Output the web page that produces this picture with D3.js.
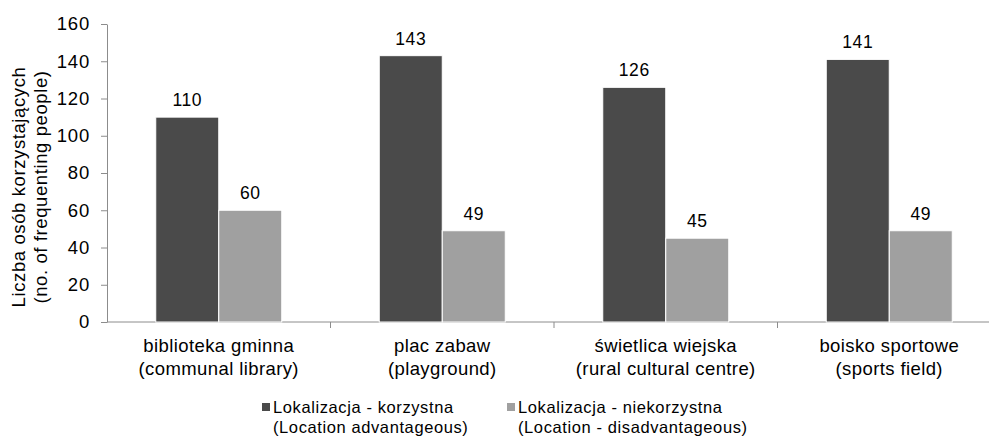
<!DOCTYPE html>
<html>
<head>
<meta charset="utf-8">
<script src="https://cdn.jsdelivr.net/npm/d3@7"></script>
<style>
  body { margin: 0; background: #fff; }
  svg { display: block; font-family: "Liberation Sans", Arial, sans-serif; }
</style>
</head>
<body>
<svg id="chart" width="989" height="438"></svg>
<script>
const categories = ["biblioteka gminna", "plac zabaw", "świetlica wiejska", "boisko sportowe"];
const categoriesEn = ["(communal library)", "(playground)", "(rural cultural centre)", "(sports field)"];
const seriesNames = ["Lokalizacja - korzystna", "Lokalizacja - niekorzystna"];
const seriesNamesEn = ["(Location advantageous)", "(Location - disadvantageous)"];
const advantageous = [110, 143, 126, 141];
const disadvantageous = [60, 49, 45, 49];
const yTicks = [0, 20, 40, 60, 80, 100, 120, 140, 160];

const colors = ["#4a4a4a", "#a0a0a0"];
const svg = d3.select("#chart");

const rows = categories.map((c, i) => ({
  cat: c,
  vals: [advantageous[i], disadvantageous[i]],
}));

// scales
const x = d3.scaleBand().domain(categories).range([107, 1001]).padding(0);
const y = d3.scaleLinear().domain([0, 160]).range([322, 24]);
const barW = 63;

// y axis
const yAxis = svg.append("g")
  .attr("transform", "translate(107,0)")
  .call(d3.axisLeft(y).tickValues(yTicks).tickSize(6).tickPadding(11).tickSizeOuter(0));
yAxis.select(".domain").attr("stroke", "#8c8c8c");
yAxis.selectAll(".tick line").attr("stroke", "#8c8c8c");
yAxis.selectAll(".tick text").attr("font-size", 18.5).attr("fill", "#000")
  .attr("letter-spacing", 0.8)
  .attr("font-family", "'Liberation Sans', Arial, sans-serif");

// x axis
const xAxis = svg.append("g").attr("transform", "translate(0,322)");
xAxis.append("line").attr("x1", 107).attr("x2", 1001).attr("stroke", "#8c8c8c");
xAxis.selectAll("line.tk")
  .data(categories.slice(1))
  .join("line")
  .attr("class", "tk")
  .attr("x1", (d) => x(d)).attr("x2", (d) => x(d))
  .attr("y1", 0).attr("y2", 6)
  .attr("stroke", "#8c8c8c");

const xl = svg.append("g")
  .selectAll("text")
  .data(categories)
  .join("text")
  .attr("text-anchor", "middle")
  .attr("font-size", 18.5)
  .attr("letter-spacing", 0.4)
  .attr("fill", "#000");
xl.append("tspan").attr("x", (d) => x(d) + x.bandwidth() / 2).attr("y", 352).text((d) => d);
xl.append("tspan").attr("x", (d) => x(d) + x.bandwidth() / 2).attr("y", 375)
  .text((d, i) => categoriesEn[i]);

// bars
const groups = svg.append("g")
  .selectAll("g")
  .data(rows)
  .join("g")
  .attr("transform", (d) => "translate(" + (x(d.cat) + x.bandwidth() / 2 - barW) + ",0)");

groups.selectAll("rect")
  .data((d) => d.vals)
  .join("rect")
  .attr("x", (d, i) => i * barW)
  .attr("y", (d) => y(d))
  .attr("width", barW)
  .attr("height", (d) => y(0) - y(d))
  .attr("fill", (d, i) => colors[i])
  .attr("stroke", "#ffffff")
  .attr("stroke-width", 1);

groups.selectAll("text")
  .data((d) => d.vals)
  .join("text")
  .attr("x", (d, i) => i * barW + barW / 2)
  .attr("y", (d) => y(d) - 11)
  .attr("text-anchor", "middle")
  .attr("font-size", 17.5)
  .attr("letter-spacing", 0.6)
  .attr("fill", "#000")
  .text((d) => d);

// y axis title
const yt = svg.append("text")
  .attr("transform", "translate(0,187) rotate(-90)")
  .attr("text-anchor", "middle")
  .attr("font-size", 18.5)
  .attr("letter-spacing", 0.6)
  .attr("fill", "#000");
yt.append("tspan").attr("x", 0).attr("y", 25).text("Liczba osób korzystających");
yt.append("tspan").attr("x", 0).attr("y", 47).text("(no. of frequenting people)");

// legend
const legendX = [262, 507];
const leg = svg.append("g")
  .selectAll("g")
  .data(seriesNames)
  .join("g")
  .attr("transform", (d, i) => "translate(" + legendX[i] + ",0)");
leg.append("rect")
  .attr("x", 0).attr("y", 403)
  .attr("width", 8).attr("height", 8)
  .attr("fill", (d, i) => colors[i]);
const lt = leg.append("text").attr("font-size", 16.5).attr("fill", "#000")
  .attr("letter-spacing", 0.6);
lt.append("tspan").attr("x", 11).attr("y", 413).text((d) => d);
lt.append("tspan").attr("x", 11).attr("y", 433).text((d, i) => seriesNamesEn[i]);
</script>
</body>
</html>
